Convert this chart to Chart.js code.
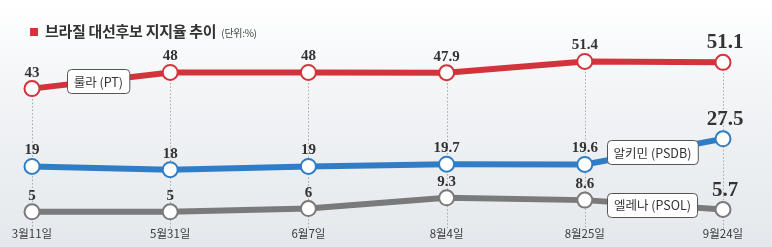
<!DOCTYPE html>
<html>
<head>
<meta charset="utf-8">
<script src="https://cdn.jsdelivr.net/npm/chart.js@4"></script>
<style>
  html,body{margin:0;padding:0;}
  body{width:772px;height:247px;overflow:hidden;background:linear-gradient(to bottom,#ffffff 0%,#f3f5f7 35%,#e4e8ec 100%);position:relative;font-family:"Noto Sans CJK KR",sans-serif;}
  #wrap{position:absolute;left:0;top:0;width:772px;height:247px;}
  #title{position:absolute;left:30px;top:21px;font-size:15px;font-weight:bold;color:#333;white-space:nowrap;line-height:20px;letter-spacing:-0.3px;}
  #title .sq{display:inline-block;width:8px;height:8px;background:#d2343c;margin-right:7px;vertical-align:1px;}
  #title .unit{font-size:10px;font-weight:normal;color:#444;margin-left:5px;}
</style>
</head>
<body>
<div id="wrap"><canvas id="c" width="772" height="247"></canvas></div>
<div id="title"><span class="sq"></span>브라질 대선후보 지지율 추이<span class="unit">(단위:%)</span></div>
<script>
const categories = ["3월11일","5월31일","6월7일","8월4일","8월25일","9월24일"];
const lulaValues = [43,48,48,47.9,51.4,51.1];
const alckminValues = [19,18,19,19.7,19.6,27.5];
const helenaValues = [5,5,6,9.3,8.6,5.7];
const seriesNames = ["룰라 (PT)","알키민 (PSDB)","엘레나 (PSOL)"];
const seriesColors = ["#d2343c","#2f7dc6","#7a7a7a"];
const nameBoxAt = [0.48,4.49,4.49];

const labelPlugin = {
  id:'labels',
  beforeDatasetsDraw(chart){
    const ctx = chart.ctx, area = chart.chartArea;
    const top = chart.getDatasetMeta(0).data;
    ctx.save();
    ctx.strokeStyle = '#a8a8a8';
    ctx.lineWidth = 1;
    ctx.setLineDash([1.5,2]);
    top.forEach((p)=>{
      ctx.beginPath();
      ctx.moveTo(Math.round(p.x)+0.5, p.y);
      ctx.lineTo(Math.round(p.x)+0.5, area.bottom+1);
      ctx.stroke();
    });
    ctx.restore();
  },
  afterDatasetsDraw(chart){
    const ctx = chart.ctx, xs = chart.scales.x, ys = chart.scales.y;
    ctx.save();
    chart.data.datasets.forEach((ds,di)=>{
      const meta = chart.getDatasetMeta(di);
      meta.data.forEach((p,i)=>{
        const last = i === ds.data.length-1;
        ctx.font = last ? 'bold 21px "Liberation Serif", serif' : 'bold 15px "Liberation Serif", serif';
        ctx.fillStyle = '#333';
        ctx.textAlign = 'center';
        ctx.textBaseline = 'alphabetic';
        ctx.fillText(String(ds.data[i]), p.x + (last?2:0), p.y - (last?14:12));
      });
      const f = nameBoxAt[di], i0 = Math.floor(f), t = f - i0;
      const v = ds.data[i0]*(1-t) + ds.data[i0+1]*t;
      const cx = xs.getPixelForValue(i0)*(1-t) + xs.getPixelForValue(i0+1)*t;
      const cy = ys.getPixelForValue(v);
      ctx.font = '12.5px "Noto Sans CJK KR", sans-serif';
      const w = ctx.measureText(seriesNames[di]).width + 13, h = 24;
      const bx = Math.round(cx - w/2)+0.5, by = Math.round(cy - h/2)+0.5;
      ctx.beginPath();
      ctx.roundRect(bx, by, w, h, 4);
      ctx.fillStyle = '#fff';
      ctx.fill();
      ctx.strokeStyle = '#555';
      ctx.lineWidth = 1;
      ctx.stroke();
      ctx.fillStyle = '#333';
      ctx.textAlign = 'center';
      ctx.textBaseline = 'middle';
      ctx.fillText(seriesNames[di], cx, cy+1);
    });
    ctx.restore();
  }
};

const mk = (label,data,color,order)=>({
  label, data, borderColor:color, borderWidth:6, fill:false, tension:0,
  pointRadius:7.5, pointHoverRadius:7.5, pointBackgroundColor:'#fff',
  pointBorderColor:color, pointBorderWidth:2, order
});

new Chart(document.getElementById('c'),{
  type:'line',
  data:{
    labels:categories,
    datasets:[
      mk(seriesNames[0],lulaValues,seriesColors[0],3),
      mk(seriesNames[1],alckminValues,seriesColors[1],2),
      mk(seriesNames[2],helenaValues,seriesColors[2],1)
    ]
  },
  options:{
    responsive:false, animation:false,
    devicePixelRatio:1,
    layout:{padding:{left:32,right:49,top:40,bottom:0}},
    plugins:{legend:{display:false},tooltip:{enabled:false},title:{display:false}},
    scales:{
      x:{
        grid:{display:false,drawTicks:false},
        border:{display:false},
        ticks:{color:'#3a3a3a',font:{family:'"Noto Sans CJK KR", sans-serif',size:11.5},padding:-1,maxRotation:0,autoSkip:false},
        afterFit(axis){axis.height = 19;}
      },
      y:{display:false,min:0,max:58}
    }
  },
  plugins:[labelPlugin]
});
</script>
</body>
</html>
